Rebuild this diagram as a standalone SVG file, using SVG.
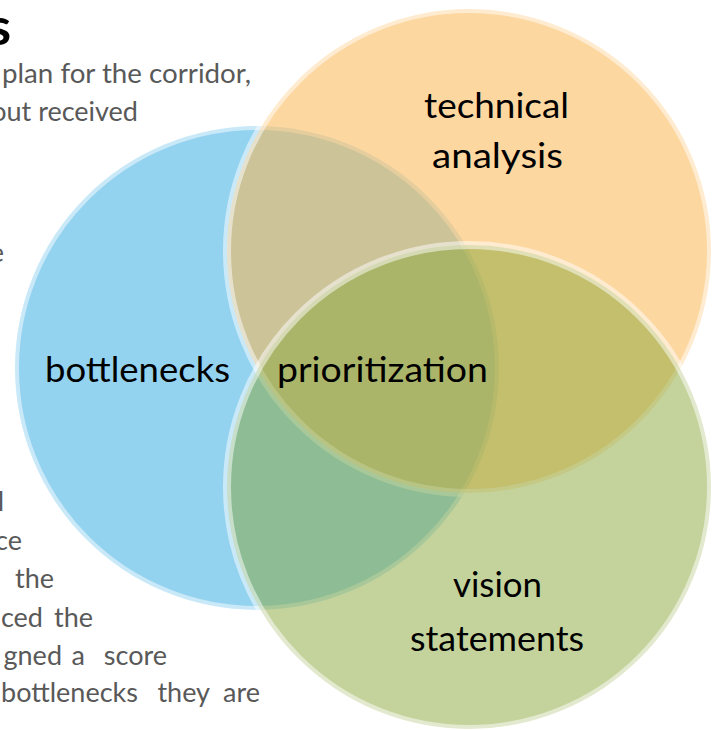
<svg xmlns="http://www.w3.org/2000/svg" width="720" height="730" viewBox="0 0 720 730">
<style>
.body{font-family:Lato,"Noto Sans","Liberation Sans",sans-serif;font-size:27px;fill:#595959}
.head{font-family:Lato,"Noto Sans","Liberation Sans",sans-serif;font-size:52px;font-weight:bold;fill:#000}
.lbl{font-family:Lato,"Noto Sans","Liberation Sans",sans-serif;font-size:35px;fill:#000;text-anchor:middle}
.ring{stroke:#fff;stroke-opacity:0.5;stroke-width:8}
</style>
<rect width="720" height="730" fill="#fff"/>
<g id="background-text">
<text class="head" x="11" y="45" text-anchor="end">s</text>
<text class="body" x="2" y="83" textLength="249" lengthAdjust="spacingAndGlyphs">plan for the corridor,</text>
<text class="body" x="138" y="121" text-anchor="end">out received</text>
<text class="body" x="4" y="262" text-anchor="end">e</text>
<text class="body" x="4" y="511" text-anchor="end">l</text>
<text class="body" x="22" y="550" text-anchor="end">ce</text>
<text class="body" x="15" y="588">the</text>
<text class="body" y="627" text-anchor="end"><tspan x="43">ced</tspan><tspan x="93">the</tspan></text>
<text class="body" y="665" text-anchor="end"><tspan x="62">gned</tspan><tspan x="85">a</tspan><tspan x="167">score</tspan></text>
<text class="body" y="702" text-anchor="end"><tspan x="138">bottlenecks</tspan><tspan x="210">they</tspan><tspan x="260">are</tspan></text>
</g>
<g id="circle-bottlenecks">
<circle class="ring" cx="257" cy="368" r="242" fill="#93D3F0"/>
</g>
<g id="circle-technical-analysis">
<circle class="ring" cx="469" cy="251" r="242" fill="#FBB652" fill-opacity="0.55"/>
</g>
<g id="circle-vision-statements">
<circle class="ring" cx="469" cy="487" r="242" fill="#89A739" fill-opacity="0.5"/>
</g>
<g id="connectors"></g>
<g id="labels">
<text class="lbl" x="496.5" y="118" textLength="145" lengthAdjust="spacingAndGlyphs">technical</text>
<text class="lbl" x="497.5" y="168" textLength="131" lengthAdjust="spacingAndGlyphs">analysis</text>
<text class="lbl" x="137.5" y="382" textLength="185" lengthAdjust="spacingAndGlyphs">bottlenecks</text>
<text class="lbl" x="382.5" y="382" textLength="211" lengthAdjust="spacingAndGlyphs">prioritization</text>
<text class="lbl" x="497.5" y="597" textLength="89" lengthAdjust="spacingAndGlyphs">vision</text>
<text class="lbl" x="497" y="651" textLength="174" lengthAdjust="spacingAndGlyphs">statements</text>
</g>
</svg>
